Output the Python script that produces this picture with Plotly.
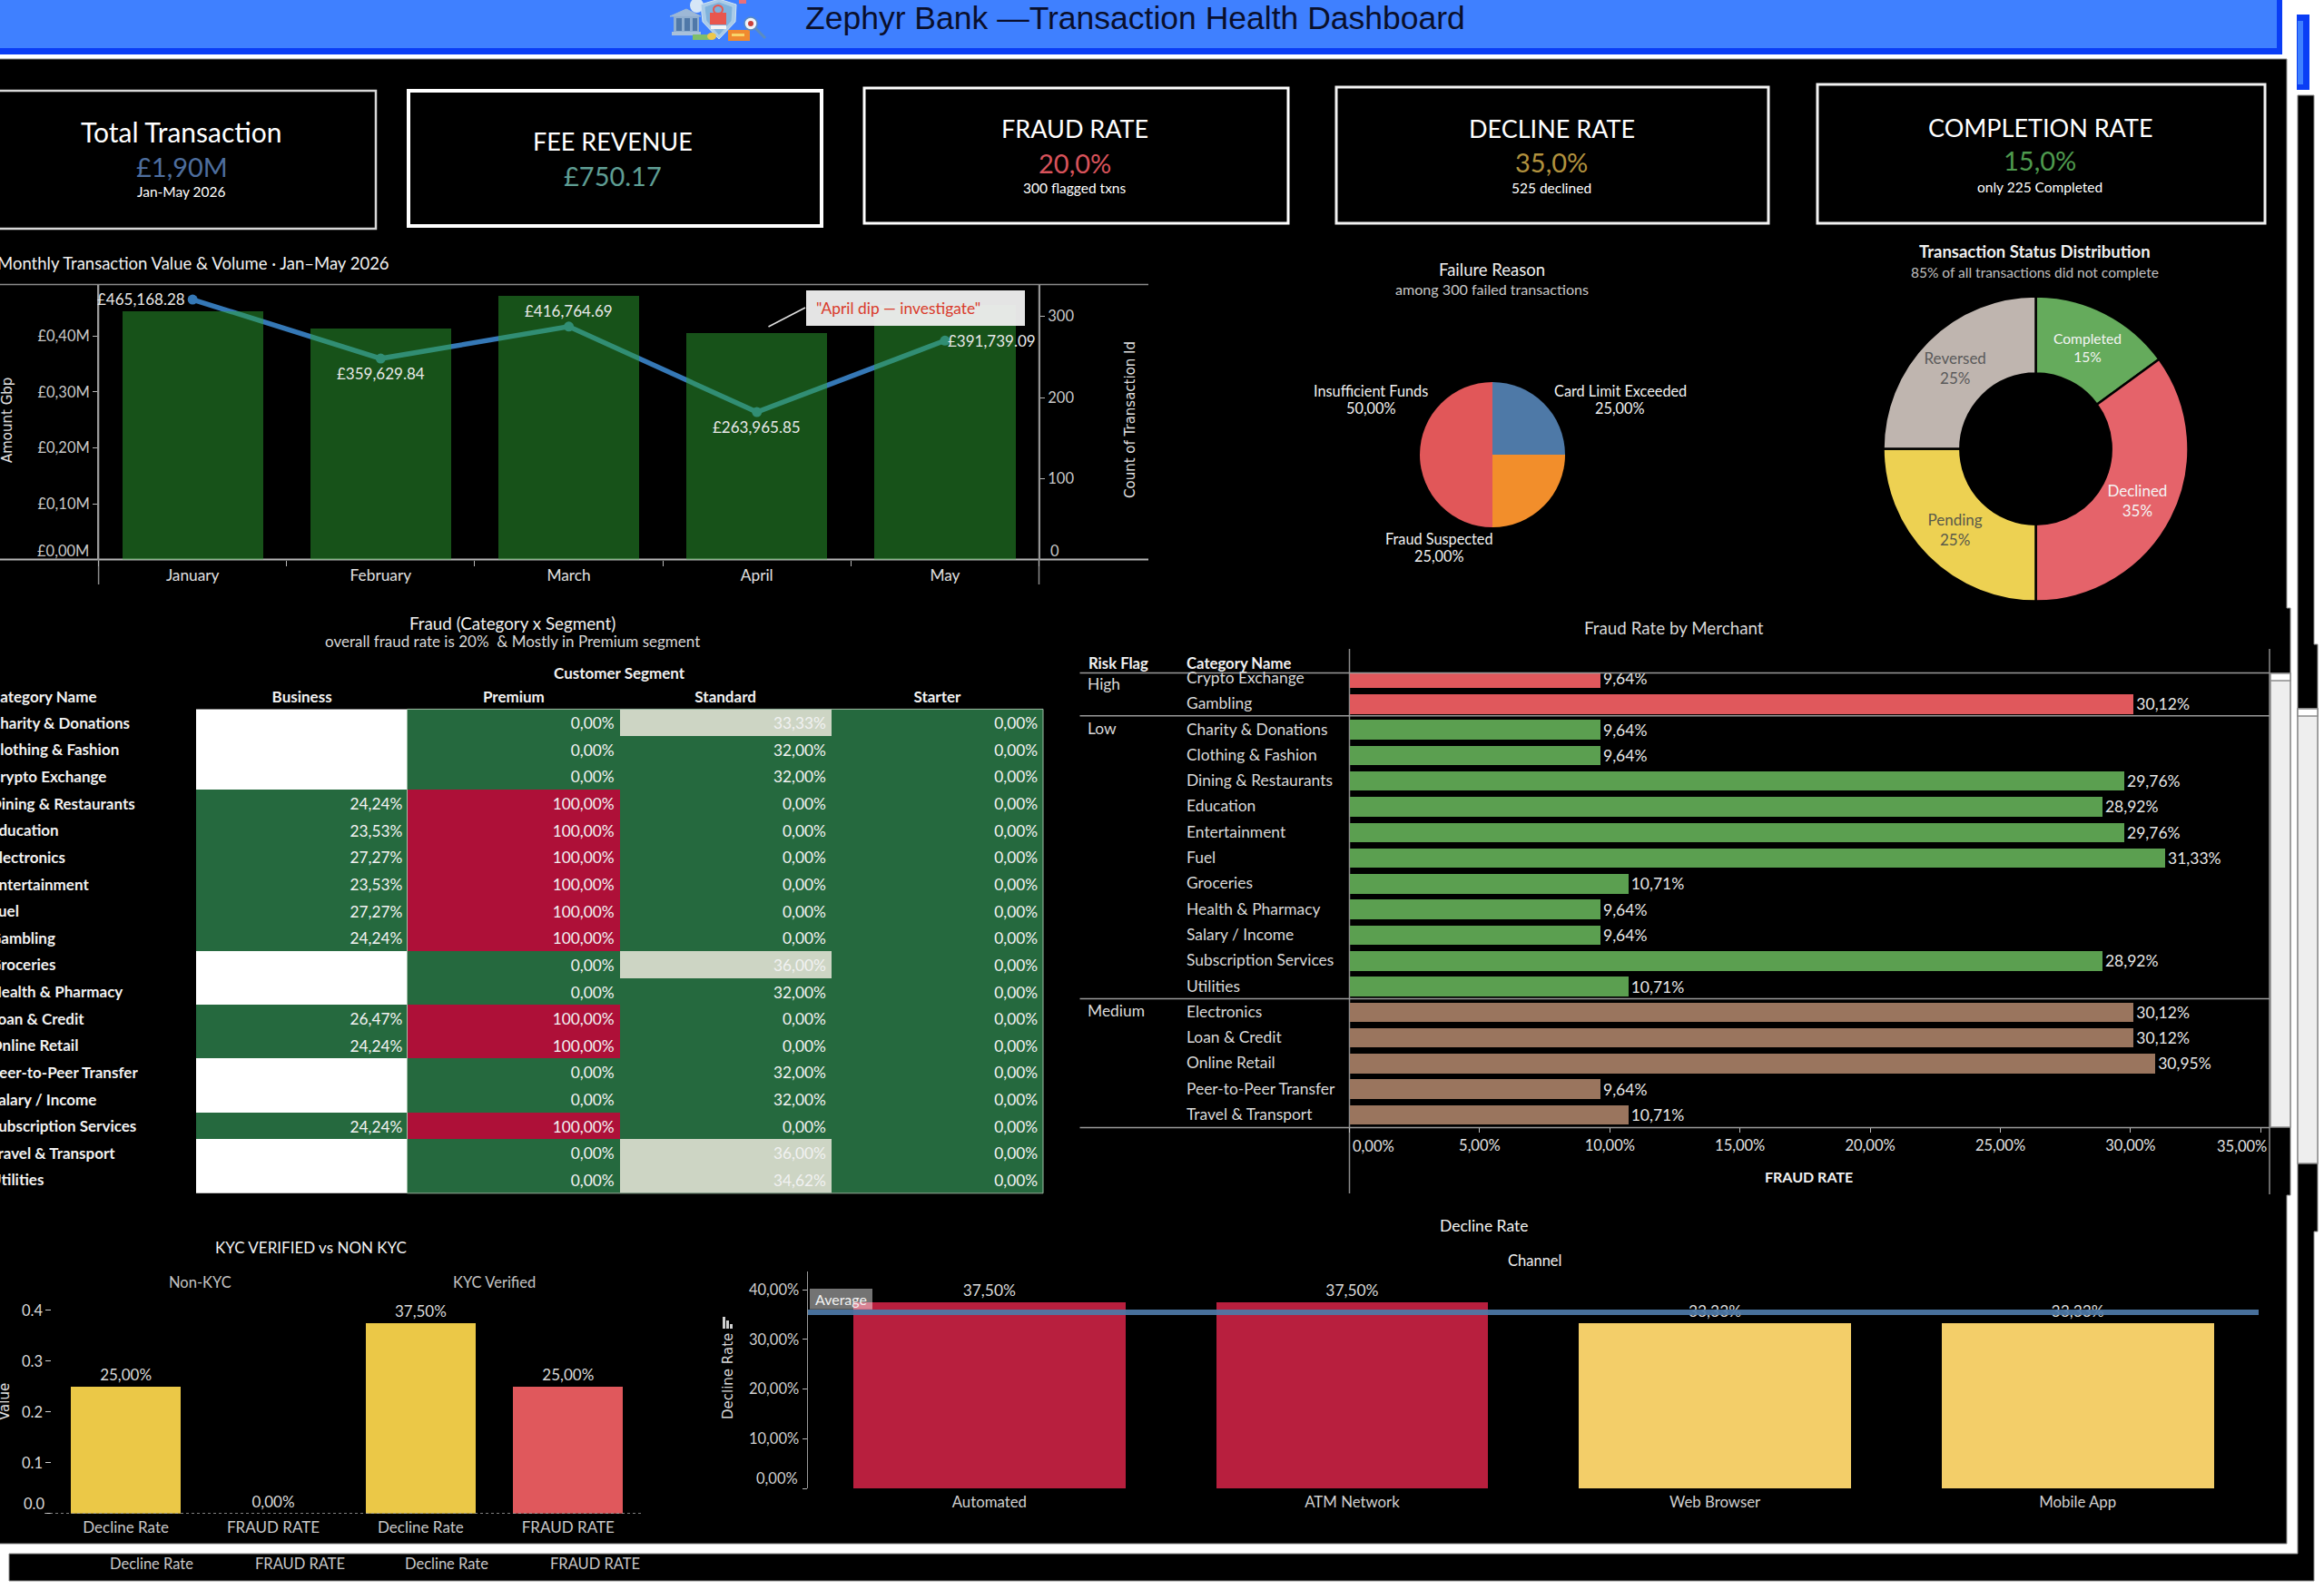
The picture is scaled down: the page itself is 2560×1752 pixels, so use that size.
import plotly.graph_objects as go

W, H = 2560, 1752
FONT = "Lato"
WIDE = "DejaVu Sans"


def fx(x):
    return x / W


def fy(y):
    return 1 - y / H


# ---- data ----
months = ["January", "February", "March", "April", "May"]
amount_gbp = [465168.28, 359629.84, 416764.69, 263965.85, 391739.09]
txn_count = [306, 285, 325, 280, 314]
amount_ticks = [0.1, 0.2, 0.3, 0.4]
count_ticks = [100, 200, 300]

failure_reasons = ["Card Limit Exceeded", "Fraud Suspected", "Insufficient Funds"]
failure_share = [25.0, 25.0, 50.0]

status_names = ["Completed", "Declined", "Pending", "Reversed"]
status_share = [15, 35, 25, 25]

segments = ["Business", "Premium", "Standard", "Starter"]
heat_categories = [
    "Charity & Donations", "Clothing & Fashion", "Crypto Exchange", "Dining & Restaurants",
    "Education", "Electronics", "Entertainment", "Fuel", "Gambling", "Groceries",
    "Health & Pharmacy", "Loan & Credit", "Online Retail", "Peer-to-Peer Transfer",
    "Salary / Income", "Subscription Services", "Travel & Transport", "Utilities",
]
business_rate = [None, None, None, 24.24, 23.53, 27.27, 23.53, 27.27, 24.24, None, None,
                 26.47, 24.24, None, None, 24.24, None, None]
premium_rate = [0, 0, 0, 100, 100, 100, 100, 100, 100, 0, 0, 100, 100, 0, 0, 100, 0, 0]
standard_rate = [33.33, 32, 32, 0, 0, 0, 0, 0, 0, 36, 32, 0, 0, 32, 32, 0, 36, 34.62]
starter_rate = [0] * 18

merchant_flags = ["High"] * 2 + ["Low"] * 11 + ["Medium"] * 5
merchant_names = [
    "Crypto Exchange", "Gambling", "Charity & Donations", "Clothing & Fashion",
    "Dining & Restaurants", "Education", "Entertainment", "Fuel", "Groceries",
    "Health & Pharmacy", "Salary / Income", "Subscription Services", "Utilities",
    "Electronics", "Loan & Credit", "Online Retail", "Peer-to-Peer Transfer", "Travel & Transport",
]
merchant_rate = [9.64, 30.12, 9.64, 9.64, 29.76, 28.92, 29.76, 31.33, 10.71, 9.64, 9.64,
                 28.92, 10.71, 30.12, 30.12, 30.95, 9.64, 10.71]
flag_colors = {"High": "#E0585C", "Low": "#5B9F50", "Medium": "#9A755E"}

kyc_labels = ["Decline Rate", "FRAUD RATE", "Decline Rate", "FRAUD RATE"]
kyc_values = [0.25, 0.0, 0.375, 0.25]
kyc_colors = ["#EBC847", "#E0585C", "#EBC847", "#E0585C"]

channels = ["Automated", "ATM Network", "Web Browser", "Mobile App"]
channel_decline = [37.5, 37.5, 33.33, 33.33]
channel_colors = ["#B81F3E", "#B81F3E", "#F3CE69", "#F3CE69"]


def pct(v, digits=2):
    return f"{v:.{digits}f}%".replace(".", ",")


fig = go.Figure()
shapes = []
notes = []


def text(x, y, s, size=16, color="#E6E6E6", anchor="center", bold=False, family=FONT, angle=0):
    label = f"<b>{s}</b>" if bold else s
    notes.append(dict(x=fx(x), y=fy(y), xref="paper", yref="paper", text=label, showarrow=False,
                      xanchor=anchor, yanchor="middle", textangle=angle,
                      font=dict(family=family, size=size, color=color)))


def rect(x0, y0, x1, y1, fill="rgba(0,0,0,0)", line=None, width=0, layer="below"):
    shapes.append(dict(type="rect", xref="paper", yref="paper", x0=fx(x0), x1=fx(x1), y0=fy(y0), y1=fy(y1),
                       fillcolor=fill, line=dict(color=line or "rgba(0,0,0,0)", width=width), layer=layer))


def seg(x0, y0, x1, y1, color="#8C8C8C", width=1.5, layer="below"):
    shapes.append(dict(type="line", xref="paper", yref="paper", x0=fx(x0), x1=fx(x1), y0=fy(y0), y1=fy(y1),
                       line=dict(color=color, width=width), layer=layer))


def outline(points, fill, line="#8C8C8C", width=1, layer="below"):
    d = "M " + " L ".join(f"{fx(a):.5f},{fy(b):.5f}" for a, b in points) + " Z"
    shapes.append(dict(type="path", xref="paper", yref="paper", path=d, fillcolor=fill,
                       line=dict(color=line, width=width), layer=layer))


def disc(x0, y0, x1, y1, fill, line=None, width=0):
    shapes.append(dict(type="circle", xref="paper", yref="paper", x0=fx(x0), x1=fx(x1), y0=fy(y1), y1=fy(y0),
                       fillcolor=fill, line=dict(color=line or "rgba(0,0,0,0)", width=width), layer="below"))


# ---- page frame ----
rect(0, 0, 2514, 60, "#0A3DF5")
rect(0, 0, 2508, 53, "#3F80FF")
rect(2530, 16, 2544, 99, "#0A3DF5")
rect(2531, 23, 2537, 93, "#3F80FF")
outline([(-2, 65), (2519, 65), (2519, 670), (2523, 670), (2523, 1317), (2519, 1317), (2519, 1701), (-2, 1701)], "#000000")
outline([(2531, 105), (2549, 105), (2549, 710), (2553, 710), (2553, 1357), (2549, 1357), (2549, 1742),
         (10, 1742), (10, 1712), (2531, 1712)], "#000000")
for left, right, top, bottom in [(2501, 2523, 742, 1242), (2531, 2553, 781, 1282)]:
    rect(left, top, right, bottom, "#EEEEEE", "#8C8C8C", 1.5)
    rect(left, top, right, top + 8, "#FFFFFF", "#8C8C8C", 1.5)

# ---- header ----
text(1250, 20, "Zephyr Bank —Transaction Health Dashboard", 35.5, "#0A0F2C", family="Liberation Sans")
# small badge next to the header: bank, shield, coins, documents and magnifier
outline([(756, 10), (738, 18), (772, 18)], "#9DB8D6", line="#9DB8D6")
rect(742, 18, 770, 35, "#8FAECF")
rect(745, 20, 751, 34, "#4F78A8")
rect(754, 20, 760, 34, "#4F78A8")
rect(763, 20, 768, 34, "#4F78A8")
rect(740, 35, 772, 39, "#A8C0DA")
disc(760, -2, 775, 14, "#D6E6F7")
outline([(772, 5), (792, -1), (811, 5), (810, 24), (792, 43), (774, 24)], "#A9CBE8", line="#CFE3F4")
outline([(777, 8), (792, 3), (806, 8), (805, 23), (792, 38), (779, 23)], "#7FB2DC", line="#7FB2DC")
rect(782, 14, 800, 27, "#E8574E")
disc(786, 6, 796, 15, "rgba(0,0,0,0)", "#E8574E", 2)
rect(783, 28, 800, 32, "#F4F4F4")
rect(802, 33, 826, 45, "#F08A30")
rect(806, 37, 820, 40, "#F8D56A")
rect(763, 38, 784, 44, "#7FBF6A")
disc(779, 36, 789, 44, "#EEC84A")
seg(832, 31, 843, 42, "#5B8CBF", 3)
disc(820, 19, 834, 33, "#F0F4FA", "#5B8CBF", 1.5)
disc(824, 23, 830, 29, "#C8403C")
rect(814, 0, 822, 4, "#E8707A")

# ---- KPI cards ----
cards = [
    (-2, 100, 414, 252, "#D8D8D8", 2.5, 200, 145, 183, 211, 30, "Total Transaction", "£1,90M", "#4E6E9E", "Jan-May 2026"),
    (450, 100, 905, 249, "#FFFFFF", 4, 675, 155, 193, None, 27, "FEE REVENUE", "£750.17", "#5F9E94", None),
    (952, 97, 1419, 246, "#FFFFFF", 3, 1184, 142, 179, 207, 27, "FRAUD RATE", "20,0%", "#D9535B", "300 flagged txns"),
    (1472, 96, 1948, 246, "#F2F2F2", 3, 1709, 142, 178, 207, 27, "DECLINE RATE", "35,0%", "#B2923E", "525 declined"),
    (2002, 93, 2495, 246, "#F2F2F2", 3, 2247, 140.5, 176, 206, 27, "COMPLETION RATE", "15,0%", "#4E9A4E", "only 225 Completed"),
]
for x0, y0, x1, y1, line, lw, cx, ty, vy, sy, tsize, title, value, vcolor, sub in cards:
    rect(x0, y0, x1, y1, "#000000", line, lw)
    text(cx, ty, title, tsize, "#FFFFFF")
    text(cx, vy, value, 29, vcolor)
    if sub:
        text(cx, sy, sub, 15.5, "#FFFFFF")

# ---- monthly value and volume ----
fig.add_trace(go.Scatter(x=months, y=[v / 1e6 for v in amount_gbp], xaxis="x", yaxis="y", mode="lines+markers",
                         line=dict(color="#3578B6", width=5.5), marker=dict(size=11, color="#3578B6"),
                         hoverinfo="skip", showlegend=False))
fig.add_trace(go.Bar(x=months, y=txn_count, xaxis="x", yaxis="y2", width=0.75,
                     marker=dict(color="rgba(46,164,50,0.5)", line=dict(width=0)),
                     hoverinfo="skip", showlegend=False))
value_offsets = [(-57, -1), (0, 16), (0, -17), (0, 16), (52, 0)]
for m, v, (dx, dy) in zip(months, amount_gbp, value_offsets):
    notes.append(dict(x=m, y=v / 1e6, xref="x", yref="y", text=f"£{v:,.2f}", showarrow=False,
                      xshift=dx, yshift=-dy, font=dict(family=FONT, size=17, color="#E8E8E8")))
notes.append(dict(x=fx(100), y=0, xref="paper", yref="y", text="£0,00M", showarrow=False, xanchor="right",
                  yshift=10, font=dict(family=FONT, size=16.5, color="#C8C8C8")))
notes.append(dict(x=fx(1155), y=0, xref="paper", yref="y2", text="0", showarrow=False, xanchor="left",
                  yshift=10, font=dict(family=FONT, size=16.5, color="#C8C8C8")))
text(-5, 290, "Monthly Transaction Value & Volume · Jan–May 2026", 18.5, "#F0F0F0", anchor="left")
text(8, 463, "Amount Gbp", 15, "#E0E0E0", family=WIDE, angle=-90)
text(1245, 463, "Count of Transaction Id", 15, "#E0E0E0", family=WIDE, angle=-90)
seg(0, 313.5, 1265, 313.5)
seg(0, 616.6, 1265, 616.6, "#B5B5B5", 2)
seg(108.6, 313.5, 108.6, 644)
seg(1144.5, 313.5, 1144.5, 644)
# callout over the April dip
seg(846.5, 360, 887, 339, "#E0E0E0", 1.5, "above")
rect(888, 320, 1129, 359, "rgba(240,240,240,0.95)", layer="above")
text(897, 339, "\"April dip — investigate\"", 17.4, "#D93A2B", anchor="left")

# ---- failure reason pie ----
fig.add_trace(go.Pie(labels=failure_reasons, values=failure_share, sort=False, direction="clockwise", rotation=0,
                     domain=dict(x=[fx(1564), fx(1724)], y=[fy(581), fy(421)]), textinfo="none", hoverinfo="skip",
                     marker=dict(colors=["#4E79A7", "#F28E2B", "#E15759"], line=dict(width=0)), showlegend=False))
text(1643, 296.6, "Failure Reason", 18.5, "#F0F0F0")
text(1643, 319, "among 300 failed transactions", 16.1, "#C8C8C8")
for name, share, cx, cy in zip(failure_reasons, failure_share, [1784.5, 1585, 1510], [430, 593, 430]):
    text(cx, cy, name, 16.3, "#F0F0F0")
    text(cx, cy + 19.5, pct(share), 16.3, "#F0F0F0")

# ---- status donut ----
fig.add_trace(go.Pie(labels=status_names, values=status_share, sort=False, direction="clockwise", rotation=0, hole=0.495,
                     domain=dict(x=[fx(2074.5), fx(2410.5)], y=[fy(662.6), fy(326.6)]),
                     marker=dict(colors=["#65AB5C", "#E5636A", "#EDD152", "#BFB5AF"], line=dict(color="#000000", width=2.5)),
                     texttemplate="%{label}<br>%{value}%", textposition="inside", insidetextorientation="horizontal",
                     insidetextfont=dict(family=FONT, size=17, color=["#F4F4F4", "#F4F4F4", "#5A5A4A", "#5A5A5A"]),
                     hoverinfo="skip", showlegend=False))
text(2241.6, 277.5, "Transaction Status Distribution", 18.5, "#F0F0F0", bold=True)
text(2241.6, 299.6, "85% of all transactions did not complete", 15.5, "#C0C0C0")

# ---- fraud by category and segment ----
heat_z = [[b, p, s, t] for b, p, s, t in zip(business_rate, premium_rate, standard_rate, starter_rate)]
segment_cols = list(range(len(segments)))
heat_rows = list(range(len(heat_categories)))
rect(216, 781.4, 448.5, 1314.8, "#FFFFFF")
fig.add_trace(go.Heatmap(z=heat_z, x=segment_cols, y=heat_rows, xaxis="x3", yaxis="y3", zmin=0, zmax=100, xgap=0, ygap=0,
                         colorscale=[[0, "#25693E"], [0.33, "#25693E"], [0.33, "#CDD5C4"], [0.5, "#CDD5C4"],
                                     [0.5, "#AE1038"], [1, "#AE1038"]],
                         showscale=False, hoverinfo="skip"))
cell_x, cell_y, cell_text = [], [], []
for r, row in zip(heat_rows, heat_z):
    for col, val in enumerate(row):
        if val is not None:
            # nudged down a little so the digits sit centred in each cell
            cell_x.append(col + 0.475)
            cell_y.append(r + 0.09)
            cell_text.append(pct(val))
fig.add_trace(go.Scatter(x=cell_x, y=cell_y, xaxis="x3", yaxis="y3", mode="text", text=cell_text,
                         textposition="middle left", textfont=dict(family=FONT, size=17.3, color="#F2F2F2"),
                         hoverinfo="skip", showlegend=False))
rect(448.5, 781.4, 1149, 1314.8, line="#9FBFA6", width=1, layer="above")
for r, cat in zip(heat_rows, heat_categories):
    notes.append(dict(x=fx(-13), y=r, xref="paper", yref="y3", text=f"<b>{cat}</b>", showarrow=False, xanchor="left",
                      font=dict(family=FONT, size=17, color="#F2F2F2")))
text(564, 686, "Fraud (Category x Segment)", 18.8, "#F0F0F0")
text(564, 706, "overall fraud rate is 20%  & Mostly in Premium segment", 17, "#D8D8D8")
text(682, 741.5, "Customer Segment", 17, "#F2F2F2", bold=True)
text(-13, 767, "Category Name", 17, "#F2F2F2", anchor="left", bold=True)

# ---- fraud rate by merchant ----
merchant_rows = list(range(len(merchant_names)))
fig.add_trace(go.Bar(x=merchant_rate, y=merchant_rows, xaxis="x4", yaxis="y4", orientation="h", width=0.76,
                     marker=dict(color=[flag_colors[f] for f in merchant_flags], line=dict(width=0)),
                     text=[pct(v) for v in merchant_rate], textposition="outside", cliponaxis=True,
                     textfont=dict(family=FONT, size=17.5, color="#E6E6E6"), hoverinfo="skip", showlegend=False))
for row, name in zip(merchant_rows, merchant_names):
    notes.append(dict(x=fx(1304.6), y=row, xref="paper", yref="y4", text=name, showarrow=False, xanchor="left", yshift=1,
                      font=dict(family=FONT, size=17.4, color="#DADADA")))
for flag, y in [("High", 753), ("Low", 802), ("Medium", 1113)]:
    text(1196, y, flag, 17.4, "#DADADA", anchor="left")
text(1844, 691.7, "Fraud Rate by Merchant", 18.8, "#D8D8D8")
text(1197, 730.7, "Risk Flag", 16.7, "#F2F2F2", anchor="left", bold=True)
text(1304.6, 730.7, "Category Name", 16.7, "#F2F2F2", anchor="left", bold=True)
text(1992, 1296, "FRAUD RATE", 16, "#F2F2F2", bold=True)
text(1513, 1263, "0,00%", 16.5, "#E0E0E0")
text(2469, 1263, "35,00%", 16.5, "#E0E0E0")
for y in [741.5, 788.8, 1100.6, 1242.4]:
    seg(1189.5, y, 2500, y, "#9A9A9A", 1.5, "above")
seg(1486.5, 715, 1486.5, 1315)
seg(2500, 715, 2500, 1316)

# ---- KYC comparison ----
fig.add_trace(go.Bar(x=[0, 1, 2, 3], y=kyc_values, xaxis="x5", yaxis="y5", width=0.745,
                     marker=dict(color=kyc_colors, line=dict(width=0)),
                     text=[pct(v * 100) for v in kyc_values], textposition="outside", cliponaxis=False,
                     textfont=dict(family=FONT, size=17, color="#DADADA"), hoverinfo="skip", showlegend=False))
notes.append(dict(x=fx(37), y=0, xref="paper", yref="y5", text="0.0", showarrow=False, xanchor="center",
                  yshift=11, font=dict(family=FONT, size=16.5, color="#DADADA")))
shapes.append(dict(type="line", xref="paper", yref="y5", x0=fx(49), x1=fx(707), y0=0, y1=0,
                   line=dict(color="#A8A8A8", width=1.2, dash="dot"), layer="above"))
text(342, 1374, "KYC VERIFIED vs NON KYC", 17, "#F2F2F2")
text(220, 1413, "Non-KYC", 16.5, "#C4C4C4")
text(544.5, 1413, "KYC Verified", 16.5, "#C4C4C4")
text(5, 1545, "Value", 15, "#E0E0E0", family=WIDE, angle=-90)
for cx, label in zip([167, 330, 492, 655], kyc_labels):
    text(cx, 1723, label, 16.5, "#C8C8C8")

# ---- decline rate by channel ----
fig.add_trace(go.Bar(x=channels, y=channel_decline, xaxis="x6", yaxis="y6", width=0.75,
                     marker=dict(color=channel_colors, line=dict(width=0)),
                     text=[pct(v) for v in channel_decline], textposition="outside", cliponaxis=False,
                     textfont=dict(family=FONT, size=17.4, color="#DADADA"), hoverinfo="skip", showlegend=False))
channel_average = sum(channel_decline) / len(channel_decline)
shapes.append(dict(type="line", xref="paper", yref="y6", x0=fx(890), x1=fx(2488), y0=channel_average, y1=channel_average,
                   line=dict(color="rgba(78,121,167,0.93)", width=6), layer="above"))
rect(892, 1420, 961, 1442.7, "rgba(255,255,255,0.45)", layer="above")
text(926, 1431, "Average", 16, "#F2F2F2")
notes.append(dict(x=fx(881), y=0, xref="paper", yref="y6", text="0,00%", showarrow=False, xanchor="right",
                  yshift=11, font=dict(family=FONT, size=16.5, color="#D0D0D0")))
text(1634, 1350.6, "Decline Rate", 17.5, "#F2F2F2")
text(1690, 1388.7, "Channel", 16.5, "#F0F0F0")
text(802, 1517, "Decline Rate", 15, "#D8D8D8", family=WIDE, angle=-90)
rect(796, 1451, 799, 1464, "#D0D0D0")
rect(800, 1455, 803, 1464, "#D0D0D0")
rect(804, 1459, 807, 1464, "#D0D0D0")

# ---- axes ----
tick_font = dict(family=FONT, size=16.5, color="#C8C8C8")
fig.update_layout(
    width=W, height=H, margin=dict(l=0, r=0, t=0, b=0, pad=0), autosize=False,
    paper_bgcolor="#FFFFFF", plot_bgcolor="rgba(0,0,0,0)", barmode="overlay", bargap=0,
    shapes=shapes, annotations=notes, showlegend=False,
    xaxis=dict(domain=[fx(108.6), fx(1144.5)], range=[-0.5, 4.5], type="category", anchor="y", showgrid=False, zeroline=False,
               showline=False, ticks="outside", tickson="boundaries", ticklen=6, tickcolor="#B5B5B5", ticklabelstandoff=5,
               tickfont=dict(family=FONT, size=17.3, color="#E0E0E0")),
    yaxis=dict(domain=[fy(616.6), fy(313.5)], range=[0, 303.1 / 616], anchor="x", showgrid=False, zeroline=False,
               showline=True, linecolor="#9A9A9A", linewidth=1.5,
               tickvals=amount_ticks, ticktext=[f"£{v:.2f}M".replace(".", ",") for v in amount_ticks],
               ticks="outside", ticklen=5, tickcolor="#B5B5B5", tickfont=tick_font),
    yaxis2=dict(domain=[fy(616.6), fy(313.5)], range=[0, 303.1 / 0.893], anchor="x", overlaying="y", side="right", showgrid=False,
                showline=True, linecolor="#9A9A9A", linewidth=1.5,
                zeroline=False, tickvals=count_ticks, ticks="outside", ticklen=5, tickcolor="#B5B5B5", tickfont=tick_font),
    xaxis3=dict(domain=[fx(216), fx(1149)], range=[-0.5, 3.5], anchor="y3", side="top", showgrid=False, zeroline=False, ticks="",
                ticklabelstandoff=3, tickmode="array", tickvals=segment_cols, ticktext=[f"<b>{s}</b>" for s in segments],
                tickfont=dict(family=FONT, size=17, color="#F2F2F2")),
    yaxis3=dict(domain=[fy(1314.8), fy(781.4)], range=[17.5, -0.5], anchor="x3", showgrid=False, zeroline=False, showticklabels=False),
    xaxis4=dict(domain=[fx(1486.5), fx(2500)], range=[0, 1013.5 / 28.68], anchor="y4", showgrid=False, zeroline=False, showline=False,
                tickvals=[0, 5, 10, 15, 20, 25, 30, 35], ticktext=["", "5,00%", "10,00%", "15,00%", "20,00%", "25,00%", "30,00%", ""],
                ticks="outside", ticklen=5, tickcolor="#C0C0C0", tickfont=dict(family=FONT, size=16.5, color="#E0E0E0")),
    yaxis4=dict(domain=[fy(1242.4), fy(741.5)], range=[17.49, -0.212], anchor="x4", showgrid=False, zeroline=False, showticklabels=False),
    xaxis5=dict(domain=[fx(57.4), fx(707)], range=[-0.5, 3.5], anchor="y5", showgrid=False, zeroline=False, showline=False,
                tickvals=[0, 1, 2, 3], ticktext=kyc_labels, ticks="", ticklabelstandoff=3, tickfont=dict(family=FONT, size=17, color="#C8C8C8")),
    yaxis5=dict(domain=[fy(1667.7), fy(1416)], range=[0, 0.45], anchor="x5", showgrid=False, zeroline=False, showline=False,
                tickvals=[0, 0.1, 0.2, 0.3, 0.4], ticktext=["", "0.1", "0.2", "0.3", "0.4"], ticks="outside", ticklen=6, tickcolor="#D0D0D0",
                tickfont=dict(family=FONT, size=16.5, color="#DADADA")),
    xaxis6=dict(domain=[fx(890), fx(2488.5)], range=[-0.5, 3.5], type="category", anchor="y6", showgrid=False, zeroline=False, showline=False,
                ticks="", ticklabelstandoff=3, tickfont=dict(family=FONT, size=16.8, color="#D0D0D0")),
    yaxis6=dict(domain=[fy(1640), fy(1401)], range=[0, 239 / 5.475], anchor="x6", showgrid=False, zeroline=False,
                showline=True, linecolor="#9A9A9A", linewidth=1.5,
                tickvals=[0, 10, 20, 30, 40], ticktext=["", "10,00%", "20,00%", "30,00%", "40,00%"], ticks="outside", ticklen=5, tickcolor="#B5B5B5",
                tickfont=dict(family=FONT, size=16.5, color="#D0D0D0")),
)

fig.write_html("out.html", config=dict(displayModeBar=False, staticPlot=True))
